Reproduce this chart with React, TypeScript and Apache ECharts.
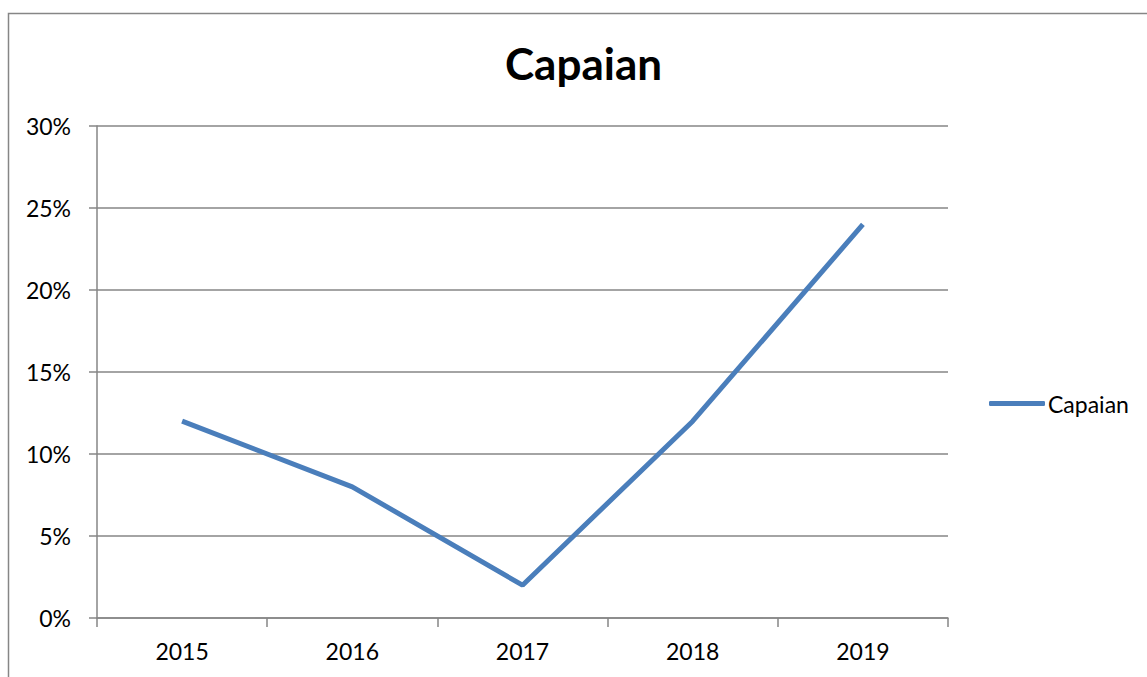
import React, { useEffect, useRef } from "react";
import * as echarts from "echarts";

const categories = ["2015", "2016", "2017", "2018", "2019"];
const values = [0.12, 0.08, 0.02, 0.12, 0.24];
const seriesName = "Capaian";
const titleText = "Capaian";

const FONT = "Lato, 'Open Sans', sans-serif";

export default function App() {
  const ref = useRef<HTMLDivElement>(null);
  useEffect(() => {
    const chart = echarts.init(ref.current!, null, { renderer: "svg" });
    chart.setOption({
      animation: false,
      backgroundColor: "#ffffff",
      title: {
        text: titleText,
        left: 500,
        top: 36,
        textStyle: { fontFamily: FONT, fontSize: 44, fontWeight: "bold", color: "#000" },
      },
      graphic: [
        {
          type: "rect",
          shape: { x: 8.5, y: 13.5, width: 1200, height: 700 },
          style: { fill: "none", stroke: "#868686", lineWidth: 1.5 },
          silent: true,
          z: -1,
        },
      ],
      legend: {
        left: 984,
        top: 387,
        itemWidth: 56,
        itemHeight: 5,
        icon: "roundRect",
        data: [seriesName],
        itemStyle: { color: "#4a7ebb" },
        textStyle: { fontFamily: FONT, fontSize: 23, color: "#000", padding: [0, 0, 0, -2] },
      },
      grid: { left: 97, top: 126, right: 199, bottom: 59, containLabel: false },
      xAxis: {
        type: "category",
        data: categories,
        boundaryGap: true,
        axisLine: { lineStyle: { color: "#868686", width: 1.5 } },
        axisTick: { show: true, length: 9, lineStyle: { color: "#868686", width: 1.5 } },
        axisLabel: { fontFamily: FONT, fontSize: 23, color: "#000", margin: 21 },
      },
      yAxis: {
        type: "value",
        min: 0,
        max: 0.3,
        interval: 0.05,
        axisLine: { show: true, lineStyle: { color: "#868686", width: 1.5 } },
        axisTick: { show: true, length: 8, lineStyle: { color: "#868686", width: 1.5 } },
        splitLine: { lineStyle: { color: "#868686", width: 1.5 } },
        axisLabel: {
          fontFamily: FONT,
          fontSize: 23,
          color: "#000",
          margin: 26,
          formatter: (v: number) => Math.round(v * 100) + "%",
        },
      },
      series: [
        {
          name: seriesName,
          type: "line",
          data: values,
          symbol: "none",
          lineStyle: { color: "#4a7ebb", width: 5 },
          itemStyle: { color: "#4a7ebb" },
        },
      ],
    });
    return () => chart.dispose();
  }, []);
  return (
    <div
      ref={ref}
      style={{ position: "absolute", left: 0, top: 0, width: 1147, height: 677 }}
    />
  );
}
